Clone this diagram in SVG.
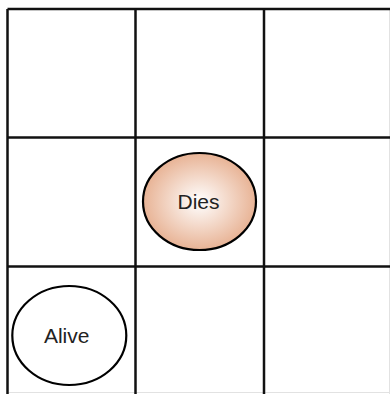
<svg xmlns="http://www.w3.org/2000/svg" width="390" height="394" viewBox="0 0 390 394">
<style>
.grid{stroke:#111;stroke-width:2.5;fill:none}
.faint{stroke:#e2e2e2;stroke-width:1;fill:none}
.cell{stroke:#000;stroke-width:2.2}
.lbl{font-family:"Liberation Sans",Arial,sans-serif;font-size:21px;fill:#222;text-anchor:middle}
</style>
<defs>
<radialGradient id="g" cx="50%" cy="50%" r="50%">
<stop offset="0" stop-color="#ffffff"/>
<stop offset="1" stop-color="#e8b395"/>
</radialGradient>
</defs>
<rect width="390" height="394" fill="#fff"/>
<g id="grid">
<line class="faint" x1="389.5" y1="9" x2="389.5" y2="394"/>
<line class="faint" x1="7.5" y1="392.5" x2="390" y2="392.5"/>
<line class="grid" x1="7.5" y1="9" x2="390" y2="9"/>
<line class="grid" x1="7.5" y1="137.5" x2="390" y2="137.5"/>
<line class="grid" x1="7.5" y1="266.5" x2="390" y2="266.5"/>
<line class="grid" x1="7.5" y1="9" x2="7.5" y2="394"/>
<line class="grid" x1="135.5" y1="9" x2="135.5" y2="394"/>
<line class="grid" x1="264" y1="9" x2="264" y2="394"/>
</g>
<g id="dies">
<ellipse class="cell" cx="199.5" cy="201.5" rx="56.5" ry="48.5" fill="url(#g)"/>
<text class="lbl" x="198.5" y="209">Dies</text>
</g>
<g id="alive">
<ellipse class="cell" cx="69.3" cy="335.5" rx="57" ry="49.5" fill="#fff"/>
<text class="lbl" x="66.7" y="342.7">Alive</text>
</g>
</svg>
